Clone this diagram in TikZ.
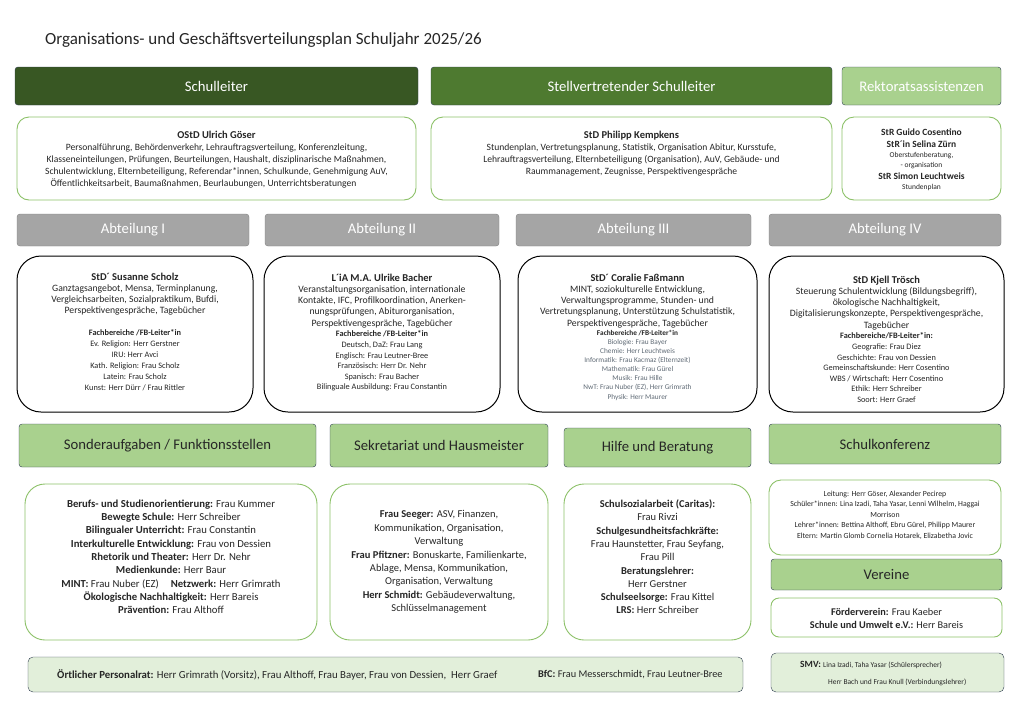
\documentclass[tikz,border=0pt]{standalone}
\usepackage{fontspec}
\setmainfont{Carlito}
\usetikzlibrary{positioning}

\definecolor{sldark}{HTML}{385723}
\definecolor{stvgreen}{HTML}{4E7A30}
\definecolor{lightgreen}{HTML}{A9D18E}
\definecolor{palegreen}{HTML}{E2EFDA}
\definecolor{framegreen}{HTML}{8CC168}
\definecolor{abtgray}{HTML}{A5A5A5}
\definecolor{edgeblue}{HTML}{2F3D50}
\definecolor{ink}{HTML}{262626}
\definecolor{fbgray}{HTML}{5F6A75}

\newcommand{\fsz}[2]{\fontsize{#1}{#2}\selectfont}

\begin{document}
\begin{tikzpicture}[x=1pt, y=-1pt,
        sz/.style 2 args={minimum width=#1, minimum height=#2, inner sep=0pt},
        head/.style={draw=edgeblue, rounded corners=3, text=white, font=\fsz{14.7}{17}},
        greenhead/.style={draw=edgeblue, fill=lightgreen, rounded corners=3, text=ink, font=\fsz{14.7}{17}},
        panel/.style={draw=framegreen, line width=0.9, fill=white, rounded corners=#1},
        abtframe/.style={draw=black, line width=1, fill=white, rounded corners=24},
        txt/.style={inner sep=0pt, align=flush center, text=ink, text width=#1}]
    \useasboundingbox (0,0) rectangle (1024,710);

    % Title
    \node[anchor=base west, inner sep=0pt, font=\fsz{17}{20}, text=ink] (title) at (45,44)
        {Organisations- und Geschäftsverteilungsplan Schuljahr 2025/26};

    % Schulleitung
    \node[head, fill=sldark, sz={403}{38}] (sl) at (216.5,86) {Schulleiter};
    \node[head, fill=stvgreen, sz={401}{38}] (stv) at (631.5,86) {Stellvertretender Schulleiter};
    \node[head, fill=lightgreen, sz={159}{38}] (ra) at (921.5,86) {Rektoratsassistenzen};

    \node[panel=12, sz={399}{83}] (slbox) at (216.5,158.5) {};
    \node[txt=395, below=14pt of slbox.north] (sltext) {%
        {\bfseries\fsz{10.5}{12}OStD Ulrich Göser\par}
        {\fsz{9.6}{12}Personalführung, Behördenverkehr, Lehrauftragsverteilung, Konferenzleitung,\\
        Klasseneinteilungen, Prüfungen, Beurteilungen, Haushalt, disziplinarische Maßnahmen,\\
        Schulentwicklung, Elternbeteiligung, Referendar*innen, Schulkunde, Genehmigung AuV,\\
        Öffentlichkeitsarbeit, Baumaßnahmen, Beurlaubungen, Unterrichtsberatungen\hspace*{26pt}\par}};

    \node[panel=12, sz={401}{83}] (stvbox) at (631.5,158.5) {};
    \node[txt=395, below=14pt of stvbox.north] (stvtext) {%
        {\bfseries\fsz{10.5}{12.5}StD Philipp Kempkens\par}
        {\fsz{9.6}{12}Stundenplan, Vertretungsplanung, Statistik, Organisation Abitur, Kursstufe,\\
        Lehrauftragsverteilung, Elternbeteiligung (Organisation), AuV, Gebäude- und\\
        Raummanagement, Zeugnisse, Perspektivengespräche\par}};

    \node[panel=12, sz={159}{83}] (rabox) at (921.5,158.5) {};
    \node[txt=155, below=12pt of rabox.north] (ratext) {%
        {\bfseries\fsz{9.5}{12}StR Guido Cosentino\\ StR´in Selina Zürn\par}
        {\fsz{7.5}{10}Oberstufenberatung,\\ - organisation\par}
        {\bfseries\fsz{9.5}{12}StR Simon Leuchtweis\par}
        {\fsz{7.5}{10}Stundenplan\par}};

    % Abteilungen
    \foreach \cx/\w/\nr [count=\i] in {133/232/I, 382/234/II, 633.5/235/III, 885/232/IV}
        \node[head, fill=abtgray, draw=gray, sz={\w}{32}] (abt\i) at (\cx,230) {Abteilung \nr};

    \node[abtframe, sz={236}{156}] (abtbox1) at (135,334) {};
    \node[txt=230, below=17pt of abtbox1.north] (abttext1) {%
        {\bfseries\fsz{10.5}{12}StD´ Susanne Scholz\par}
        {\fsz{9.7}{11.3}Ganztagsangebot, Mensa, Terminplanung,\\
        Vergleichsarbeiten, Sozialpraktikum, Bufdi,\\
        Perspektivengespräche, Tagebücher\par}
        \vspace{11pt}
        {\fsz{8.3}{11}\textbf{Fachbereiche /FB-Leiter*in}\\ Ev. Religion: Herr Gerstner\\ IRU: Herr Avci\\
        Kath. Religion: Frau Scholz\\ Latein: Frau Scholz\\ Kunst: Herr Dürr / Frau Rittler\par}};

    \node[abtframe, sz={236}{156}] (abtbox2) at (382,334) {};
    \node[txt=230, below=18pt of abtbox2.north] (abttext2) {%
        {\bfseries\fsz{10.5}{12}L´iA M.A. Ulrike Bacher\par}
        {\fsz{9.7}{11.3}Veranstaltungsorganisation, internationale\\
        Kontakte, IFC, Profilkoordination, Anerken-\\
        nungsprüfungen, Abiturorganisation,\\
        Perspektivengespräche, Tagebücher\par}
        {\fsz{8.3}{10.6}\textbf{Fachbereiche /FB-Leiter*in}\\ Deutsch, DaZ: Frau Lang\\ Englisch: Frau Leutner-Bree\\
        Französisch: Herr Dr. Nehr\\ Spanisch: Frau Bacher\\ Bilinguale Ausbildung: Frau Constantin\par}};

    \node[abtframe, sz={239}{156}] (abtbox3) at (637.5,334) {};
    \node[txt=233, below=18pt of abtbox3.north] (abttext3) {%
        {\bfseries\fsz{10.5}{12}StD´ Coralie Faßmann\par}
        {\fsz{9.7}{11.3}MINT, soziokulturelle Entwicklung,\\
        Verwaltungsprogramme, Stunden- und\\
        Vertretungsplanung, Unterstützung Schulstatistik,\\
        Perspektivengespräche, Tagebücher\par}
        {\fsz{7.3}{9.1}\textbf{Fachbereiche /FB-Leiter*in}\par}
        {\color{fbgray}\fsz{7.3}{9.1}Biologie: Frau Bayer\\ Chemie: Herr Leuchtweis\\ Informatik: Frau Kacmaz (Elternzeit)\\
        Mathematik: Frau Gürel\\ Musik: Frau Hille\\ NwT: Frau Nuber (EZ), Herr Grimrath\\ Physik: Herr Maurer\par}};

    \node[abtframe, sz={235}{156}] (abtbox4) at (886.5,334) {};
    \node[txt=229, below=20pt of abtbox4.north] (abttext4) {%
        {\bfseries\fsz{10.5}{12}StD Kjell Trösch\par}
        {\fsz{9.7}{11.3}Steuerung Schulentwicklung (Bildungsbegriff),\\
        ökologische Nachhaltigkeit,\\
        Digitalisierungskonzepte, Perspektivengespräche,\\
        Tagebücher\par}
        {\fsz{8.3}{10.6}\textbf{Fachbereiche/FB-Leiter*in:}\\ Geografie: Frau Diez\\ Geschichte: Frau von Dessien\\
        Gemeinschaftskunde: Herr Cosentino\\ WBS / Wirtschaft: Herr Cosentino\\ Ethik: Herr Schreiber\\ Soort: Herr Graef\par}};

    % weitere Bereiche
    \node[greenhead, sz={297}{43}] (sonder) at (167.5,445.5) {Sonderaufgaben / Funktionsstellen};
    \node[greenhead, sz={218}{43}] (sekr) at (439,445.5) {Sekretariat und Hausmeister};
    \node[greenhead, sz={187}{39}] (hilfe) at (657.5,447.5) {Hilfe und Beratung};
    \node[greenhead, sz={232}{40}] (konf) at (885,444) {Schulkonferenz};

    \node[panel=20, sz={292}{156}] (sonderbox) at (171,562) {};
    \node[txt=288, below=16pt of sonderbox.north] (sondertext) {\fsz{10.7}{13.3}%
        \textbf{Berufs- und Studienorientierung:} Frau Kummer\\
        \textbf{Bewegte Schule:} Herr Schreiber\\
        \textbf{Bilingualer Unterricht:} Frau Constantin\\
        \textbf{Interkulturelle Entwicklung:} Frau von Dessien\\
        \textbf{Rhetorik und Theater:} Herr Dr. Nehr\\
        \textbf{Medienkunde:} Herr Baur\\
        \textbf{MINT:} Frau Nuber (EZ)\hspace{12pt}\textbf{Netzwerk:} Herr Grimrath\\
        \textbf{Ökologische Nachhaltigkeit:} Herr Bareis\\
        \textbf{Prävention:} Frau Althoff\par};

    \node[panel=20, sz={218}{156}] (sekrbox) at (439,562) {};
    \node[txt=214, below=27pt of sekrbox.north] (sekrtext) {\fsz{10.5}{13.4}%
        \textbf{Frau Seeger:} ASV, Finanzen,\\ Kommunikation, Organisation,\\ Verwaltung\\
        \textbf{Frau Pfitzner:} Bonuskarte, Familienkarte,\\ Ablage, Mensa, Kommunikation,\\
        Organisation, Verwaltung\\
        \textbf{Herr Schmidt:} Gebäudeverwaltung,\\ Schlüsselmanagement\par};

    \node[panel=20, sz={187}{156}] (hilfebox) at (657.5,562) {};
    \node[txt=183, below=16pt of hilfebox.north] (hilfetext) {\fsz{10.5}{13.3}%
        \textbf{Schulsozialarbeit (Caritas):}\\ Frau Rivzi\\
        \textbf{Schulgesundheitsfachkräfte:}\\ Frau Haunstetter, Frau Seyfang,\\ Frau Pill\\
        \textbf{Beratungslehrer:}\\ Herr Gerstner\\
        \textbf{Schulseelsorge:} Frau Kittel\\
        \textbf{LRS:} Herr Schreiber\par};

    \node[panel=12, sz={232}{75}] (konfbox) at (885,517.5) {};
    \node[txt=228, below=11pt of konfbox.north] (konftext) {\fsz{7.8}{10.5}%
        Leitung: Herr Göser, Alexander Pecirep\\
        Schüler*innen: Lina Izadi, Taha Yasar, Lenni Wilhelm, Haggai\\ Morrison\\
        Lehrer*innen: Bettina Althoff, Ebru Gürel, Philipp Maurer\\
        Eltern: Martin Glomb Cornelia Hotarek, Elizabetha Jovic\par};

    \node[greenhead, sz={231}{31}] (vereine) at (886.5,574.5) {Vereine};
    \node[panel=8, sz={231}{39}] (vereinebox) at (886.5,617.5) {};
    \node[txt=227, below=11pt of vereinebox.north] (vereinetext) {\fsz{10.3}{12.3}%
        \textbf{Förderverein:} Frau Kaeber\\ \textbf{Schule und Umwelt e.V.:} Herr Bareis\par};

    % Personalrat und SMV
    \node[draw=edgeblue, fill=palegreen, rounded corners=5, sz={715}{35}] (prbox) at (385.5,674.5) {};
    \node[anchor=west, inner sep=0pt, text=ink, font=\fsz{10.8}{12}] (prtext) at (57,674.5)
        {\textbf{Örtlicher Personalrat:} Herr Grimrath (Vorsitz), Frau Althoff, Frau Bayer, Frau von Dessien,\ \ Herr Graef};
    \node[anchor=west, inner sep=0pt, text=ink, font=\fsz{10.3}{12}] (bfctext) at (538,674.5)
        {\textbf{BfC:} Frau Messerschmidt, Frau Leutner-Bree};

    \node[draw=edgeblue, fill=palegreen, rounded corners=5, sz={233}{39}] (smvbox) at (887.5,672.5) {};
    \node[anchor=north west, inner sep=0pt, text=ink, align=flush left] (smvtext) at (800,661)
        {{\bfseries\fsz{9.5}{11}SMV:} {\fsz{7.5}{9}Lina Izadi, Taha Yasar (Schülersprecher)}\\[5pt]
        \hspace*{28pt}{\fsz{7.5}{9}Herr Bach und Frau Knull (Verbindungslehrer)}};
\end{tikzpicture}
\end{document}
